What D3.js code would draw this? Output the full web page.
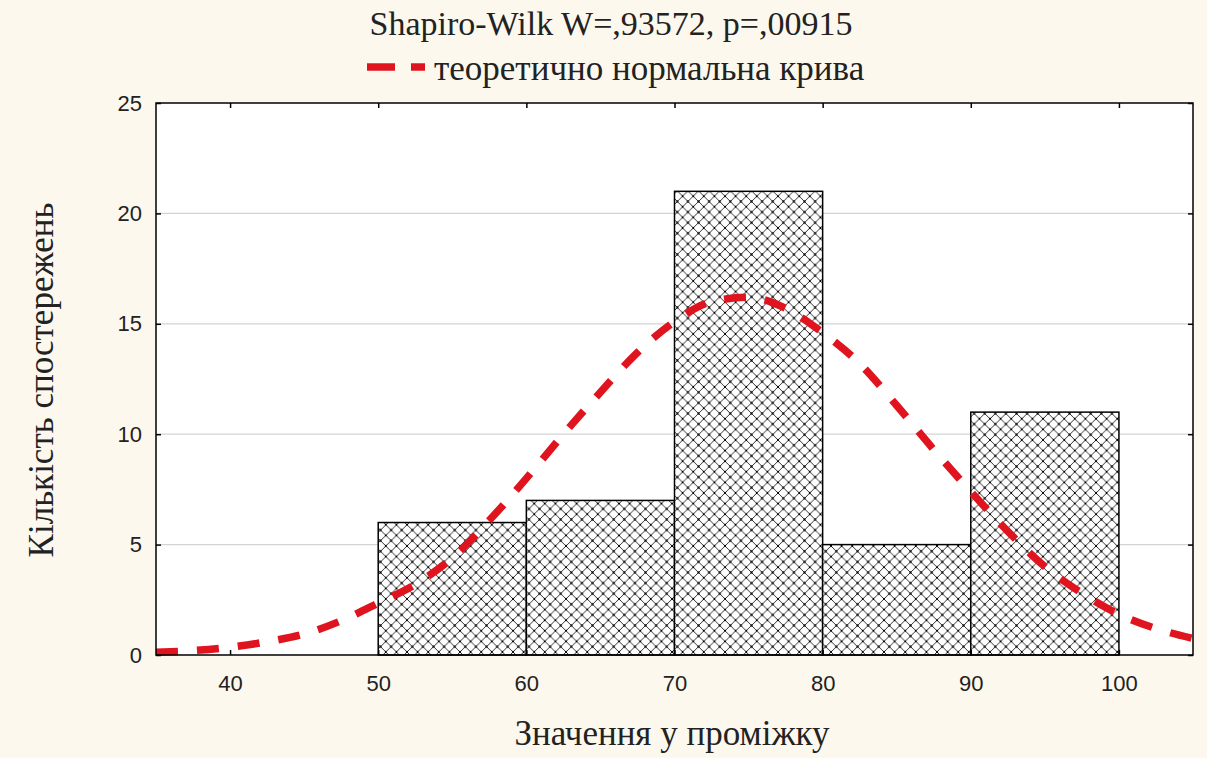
<!DOCTYPE html>
<html>
<head>
<meta charset="utf-8">
<script src="https://cdn.jsdelivr.net/npm/d3@7"></script>
<style>
  html, body { margin: 0; padding: 0; background: #fcf8ee; }
</style>
</head>
<body>
<div id="chart"></div>
<script>
// histogram bins and counts
const binStarts = [50, 60, 70, 80, 90];
const binWidth = 10;
const counts = [6, 7, 21, 5, 11];

// fitted normal curve
const curveX = [35, 37.5, 40, 42.5, 45, 47.5, 50, 52.5, 55, 57.5, 60, 62.5, 65, 67.5, 70,
                72.5, 75, 77.5, 80, 82.5, 85, 87.5, 90, 92.5, 95, 97.5, 100, 102.5, 105];
const curveY = [0.12, 0.2, 0.35, 0.6, 0.95, 1.55, 2.35, 3.2, 4.4, 6.1, 8.0, 10.0, 11.9, 13.7, 15.1,
                16.0, 16.2, 15.7, 14.6, 13.2, 11.3, 9.3, 7.4, 5.6, 4.0, 2.8, 1.85, 1.2, 0.75];

const xTicks = [40, 50, 60, 70, 80, 90, 100];
const yTicks = [0, 5, 10, 15, 20, 25];

const title = 'Shapiro-Wilk W=,93572, p=,00915';
const legendLabel = 'теоретично нормальна крива';
const xLabel = 'Значення у проміжку';
const yLabel = 'Кількість спостережень';

const width = 1207, height = 758;
const margin = { top: 103, right: 14, bottom: 103, left: 156 };
const plotW = width - margin.left - margin.right;
const plotH = height - margin.top - margin.bottom;
const red = '#e0141e';

const svg = d3.select('#chart')
  .append('svg')
  .attr('width', width)
  .attr('height', height);

svg.append('rect')
  .attr('width', width)
  .attr('height', height)
  .attr('fill', '#fcf8ee');

// cross hatch pattern
const cell = 10.6;
const pat = svg.append('defs')
  .append('pattern')
  .attr('id', 'hatch')
  .attr('patternUnits', 'userSpaceOnUse')
  .attr('width', cell)
  .attr('height', cell)
  .attr('x', margin.left + (50 - 35) * plotW / 70)
  .attr('y', margin.top + plotH);
pat.append('rect').attr('width', cell).attr('height', cell).attr('fill', '#fff');
pat.append('path')
  .attr('d', `M0,0L${cell},${cell}M${cell},0L0,${cell}`)
  .attr('stroke', '#1a1a1a')
  .attr('stroke-width', 0.9);
[[cell / 2, cell / 2], [0, 0], [cell, 0], [0, cell], [cell, cell]].forEach(([cx, cy]) =>
  pat.append('circle').attr('cx', cx).attr('cy', cy).attr('r', 1.1).attr('fill', '#000'));

const g = svg.append('g')
  .attr('transform', `translate(${margin.left},${margin.top})`);

const x = d3.scaleLinear().domain([35, 105]).range([0, plotW]);
const y = d3.scaleLinear().domain([0, 25]).range([plotH, 0]);

g.append('rect')
  .attr('width', plotW)
  .attr('height', plotH)
  .attr('fill', '#fff');

// grid
g.selectAll('.grid')
  .data(yTicks.filter(d => d > 0 && d < 25))
  .enter().append('line')
  .attr('x1', 0).attr('x2', plotW)
  .attr('y1', d => y(d)).attr('y2', d => y(d))
  .attr('stroke', '#d4d4d4')
  .attr('stroke-width', 1.2);

// bars
g.selectAll('.bar')
  .data(binStarts)
  .enter().append('rect')
  .attr('x', d => x(d))
  .attr('y', (d, i) => y(counts[i]))
  .attr('width', d => x(d + binWidth) - x(d))
  .attr('height', (d, i) => plotH - y(counts[i]))
  .attr('fill', 'url(#hatch)')
  .attr('stroke', '#000')
  .attr('stroke-width', 1.5);

// normal curve
const line = d3.line()
  .x((d, i) => x(curveX[i]))
  .y(d => y(d))
  .curve(d3.curveMonotoneX);

g.append('path')
  .datum(curveY)
  .attr('fill', 'none')
  .attr('stroke', red)
  .attr('stroke-width', 7.5)
  .attr('stroke-dasharray', '22,19')
  .attr('d', line);

// axes with inward ticks on all sides
const tickLen = 5;
const fontSans = '"Liberation Sans", Arial, sans-serif';
const fontSerif = '"Liberation Serif", "Times New Roman", serif';

const xAxis = g.append('g')
  .attr('transform', `translate(0,${plotH})`)
  .call(d3.axisBottom(x).tickValues(xTicks).tickSize(-tickLen).tickPadding(20));
const xTop = g.append('g')
  .call(d3.axisTop(x).tickValues(xTicks).tickSize(-tickLen).tickFormat(''));
const yAxis = g.append('g')
  .call(d3.axisLeft(y).tickValues(yTicks).tickSize(-tickLen).tickPadding(14));
const yRight = g.append('g')
  .attr('transform', `translate(${plotW},0)`)
  .call(d3.axisRight(y).tickValues(yTicks).tickSize(-tickLen).tickFormat(''));

[xAxis, xTop, yAxis, yRight].forEach(a => {
  a.select('.domain').remove();
  a.selectAll('.tick line').attr('stroke', '#000').attr('stroke-width', 1.5);
  a.selectAll('text')
    .style('font-family', fontSans)
    .style('font-size', '22px')
    .attr('fill', '#222');
});

g.append('rect')
  .attr('width', plotW)
  .attr('height', plotH)
  .attr('fill', 'none')
  .attr('stroke', '#000')
  .attr('stroke-width', 1.5);

// title and legend
svg.append('text')
  .attr('x', 611)
  .attr('y', 35)
  .attr('text-anchor', 'middle')
  .style('font-family', fontSerif)
  .style('font-size', '34px')
  .attr('fill', '#222')
  .text(title);

svg.append('line')
  .attr('x1', 367).attr('x2', 425)
  .attr('y1', 67).attr('y2', 67)
  .attr('stroke', red)
  .attr('stroke-width', 7.5)
  .attr('stroke-dasharray', '28,16');

svg.append('text')
  .attr('x', 434)
  .attr('y', 80)
  .style('font-family', fontSerif)
  .style('font-size', '35px')
  .attr('fill', '#222')
  .text(legendLabel);

svg.append('text')
  .attr('x', 672)
  .attr('y', 745)
  .attr('text-anchor', 'middle')
  .style('font-family', fontSerif)
  .style('font-size', '35px')
  .attr('fill', '#222')
  .text(xLabel);

svg.append('text')
  .attr('transform', `translate(53,380) rotate(-90)`)
  .attr('text-anchor', 'middle')
  .style('font-family', fontSerif)
  .style('font-size', '35px')
  .attr('fill', '#222')
  .text(yLabel);
</script>
</body>
</html>
